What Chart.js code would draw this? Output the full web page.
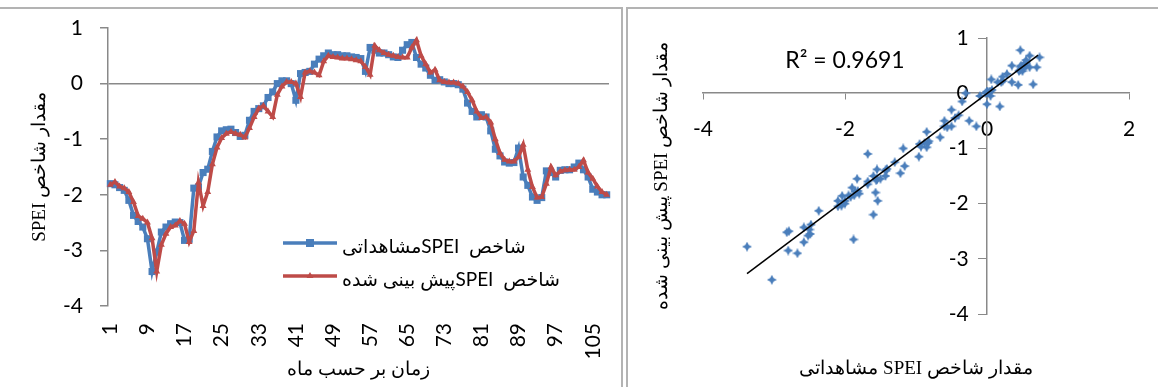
<!DOCTYPE html>
<html>
<head>
<meta charset="utf-8">
<script src="https://cdn.jsdelivr.net/npm/chart.js@4.4.1/dist/chart.umd.min.js"></script>
<style>
  html, body { margin: 0; padding: 0; background: #fff; width: 1158px; height: 387px; overflow: hidden; }
  .frame { position: absolute; top: 7px; height: 380px; border-top: 2px solid #b3b3b3; box-sizing: border-box; }
  #leftFrame { left: 0; width: 623px; border-right: 2px solid #b3b3b3; }
  #rightFrame { left: 626px; width: 532px; border-left: 2px solid #b3b3b3; }
  canvas { position: absolute; }
  #lineChart { left: 0; top: 9px; }
  #scatterChart { left: 628px; top: 9px; }
</style>
</head>
<body>
<div class="frame" id="leftFrame"></div>
<div class="frame" id="rightFrame"></div>
<canvas id="lineChart" width="620" height="378"></canvas>
<canvas id="scatterChart" width="530" height="378"></canvas>
<script>
// months 1..108
const months = Array.from({ length: 108 }, (_, i) => i + 1);

// observed SPEI
const observed = [
  -1.8, -1.82, -1.87, -1.92, -2.1, -2.37, -2.48, -2.58, -2.79, -3.38,
  -3.03, -2.67, -2.58, -2.52, -2.49, -2.5, -2.82, -2.8, -1.88, -1.86,
  -1.6, -1.54, -1.22, -0.96, -0.85, -0.83, -0.82, -0.88, -0.95, -0.93,
  -0.66, -0.5, -0.45, -0.4, -0.25, -0.15, 0.0, 0.05, 0.05, 0.0,
  -0.3, 0.18, 0.2, 0.22, 0.35, 0.44, 0.5, 0.55, 0.52, 0.52,
  0.5, 0.5, 0.48, 0.47, 0.45, 0.22, 0.65, 0.6, 0.55, 0.55,
  0.52, 0.48, 0.47, 0.6, 0.7, 0.74, 0.47, 0.35, 0.28, 0.15,
  0.06, 0.07, 0.03, 0.0, 0.0, -0.02, -0.1, -0.35, -0.5, -0.6,
  -0.56, -0.6, -0.85, -1.18, -1.3, -1.41, -1.43, -1.42, -1.16, -1.68,
  -1.83, -2.04, -2.1, -2.05, -1.57, -1.6, -1.68, -1.56, -1.55, -1.55,
  -1.5, -1.43, -1.55, -1.68, -1.9, -1.95, -2.0, -2.0
];

// predicted SPEI
const predicted = [
  -1.82, -1.77, -1.85, -1.88, -1.95, -2.13, -2.38, -2.43, -2.5, -2.78,
  -3.38, -2.9, -2.7, -2.58, -2.55, -2.47, -2.52, -2.85, -2.65, -1.78,
  -2.2, -1.95, -1.45, -1.15, -0.98, -0.9, -0.87, -0.9, -0.92, -0.97,
  -0.8, -0.6, -0.45, -0.4, -0.5, -0.6, -0.2, -0.05, 0.03, 0.03,
  0.0, -0.24, 0.2, 0.22, 0.2, 0.15, 0.4, 0.5, 0.48, 0.47,
  0.45, 0.45, 0.44, 0.42, 0.4, 0.3, 0.16, 0.68, 0.6, 0.55,
  0.52, 0.5, 0.48, 0.47, 0.47, 0.65, 0.78, 0.5, 0.35, 0.2,
  0.25, 0.06, 0.03, 0.02, 0.02, 0.0, -0.05, -0.15, -0.3, -0.5,
  -0.62, -0.6, -0.7, -1.0, -1.25, -1.37, -1.4, -1.4, -1.32, -1.1,
  -1.55, -1.86, -2.05, -2.04, -1.8, -1.5, -1.65, -1.58, -1.56, -1.55,
  -1.55, -1.5, -1.38, -1.6, -1.71, -1.85, -1.95, -2.0
];

// trendline ends
const trendX = [-3.38, 0.72];
const trendY = [-3.27, 0.69];
const rSquared = '0.9691';
const monthTickStep = 8;

const blue = '#4a7ebb';
const red = '#be4b48';
const axisGrey = '#898989';
const tickFont = { family: 'Lato', size: 21 };
const titleFont = { family: "'Liberation Serif', serif", size: 19, weight: 'normal' };
const legendFont = '19px Lato, "DejaVu Sans"';
const rtl = s => '\u202B' + s + '\u202C';

// keep the layout from adding room for label overhang
const noOverhang = s => { s.paddingTop = 0; s.paddingBottom = 0; s.paddingLeft = 0; s.paddingRight = 0; };

// legend sitting inside the plot, lower middle
const insideLegend = {
  id: 'insideLegend',
  afterDraw(chart) {
    const { ctx, chartArea } = chart;
    const x0 = chartArea.left + 175;
    const len = 54;
    ctx.save();
    chart.data.datasets.forEach((ds, i) => {
      const y = chartArea.top + 215 + i * 33;
      ctx.strokeStyle = ds.borderColor;
      ctx.lineWidth = ds.borderWidth;
      ctx.beginPath();
      ctx.moveTo(x0, y);
      ctx.lineTo(x0 + len, y);
      ctx.stroke();
      ctx.fillStyle = ds.borderColor;
      const mx = x0 + len / 2;
      if (ds.pointStyle === 'rect') {
        ctx.fillRect(mx - 4, y - 4, 8, 8);
      } else {
        ctx.beginPath();
        ctx.moveTo(mx, y - 4);
        ctx.lineTo(mx + 3.5, y + 2);
        ctx.lineTo(mx - 3.5, y + 2);
        ctx.closePath();
        ctx.fill();
      }
      ctx.fillStyle = '#000';
      ctx.font = legendFont;
      ctx.textAlign = 'left';
      ctx.textBaseline = 'middle';
      ctx.fillText(ds.label, x0 + len + 5, y + 4);
    });
    ctx.restore();
  }
};

new Chart(document.getElementById('lineChart'), {
  type: 'line',
  data: {
    labels: months,
    datasets: [
      {
        label: rtl('شاخص  SPEIمشاهداتی'),
        data: observed,
        borderColor: blue,
        backgroundColor: blue,
        borderWidth: 3.5,
        pointStyle: 'rect',
        pointRadius: 5,
        pointBorderWidth: 0,
        tension: 0,
        order: 2
      },
      {
        label: rtl('شاخص  SPEIپیش بینی شده'),
        data: predicted,
        borderColor: red,
        backgroundColor: red,
        borderWidth: 3.5,
        pointStyle: 'triangle',
        pointRadius: 4,
        pointBorderWidth: 0,
        tension: 0,
        order: 1
      }
    ]
  },
  options: {
    responsive: false,
    animation: false,
    layout: { padding: { top: 19, right: 11, bottom: 0, left: 0 } },
    plugins: { legend: { display: false }, tooltip: { enabled: false } },
    scales: {
      x: {
        offset: true,
        grid: { display: false, drawTicks: false },
        border: { display: false },
        ticks: {
          autoSkip: false, minRotation: 90, maxRotation: 90, padding: 17,
          font: tickFont, color: '#000',
          callback: (v, i) => (i % monthTickStep === 0 ? months[i] : '')
        },
        title: {
          display: true, text: 'زمان بر حسب ماه', font: titleFont, color: '#000',
          padding: { top: 0, bottom: 5.6 }
        },
        afterFit: s => { s.height = 81; noOverhang(s); }
      },
      y: {
        min: -4, max: 1,
        ticks: { stepSize: 1, font: tickFont, color: '#000', padding: 17 },
        grid: {
          color: c => (c.tick && c.tick.value === 0 ? axisGrey : 'rgba(0,0,0,0)'),
          lineWidth: 1.5, tickColor: axisGrey, tickLength: 8
        },
        border: { color: axisGrey, width: 1.5 },
        title: {
          display: true, text: rtl('مقدار شاخص SPEI'), font: titleFont, color: '#000',
          padding: { top: 28.6, bottom: 0 }
        },
        afterFit: s => { s.width = 108; noOverhang(s); }
      }
    }
  },
  plugins: [insideLegend]
});

// Excel-like four point star marker
function makeStar(size, color) {
  const c = document.createElement('canvas');
  c.width = c.height = size;
  const g = c.getContext('2d');
  const m = size / 2, k = size * 0.17;
  g.fillStyle = color;
  g.beginPath();
  g.moveTo(m, 0); g.lineTo(m + k, m - k); g.lineTo(size, m); g.lineTo(m + k, m + k);
  g.lineTo(m, size); g.lineTo(m - k, m + k); g.lineTo(0, m); g.lineTo(m - k, m - k);
  g.closePath();
  g.fill();
  return c;
}

const rLabel = {
  id: 'rLabel',
  afterDraw(chart) {
    const { ctx, scales } = chart;
    ctx.save();
    ctx.font = '23px Lato';
    ctx.fillStyle = '#000';
    ctx.textAlign = 'center';
    ctx.textBaseline = 'middle';
    ctx.fillText('R² = ' + rSquared, scales.x.getPixelForValue(-2), scales.y.getPixelForValue(0.6));
    ctx.restore();
  }
};

new Chart(document.getElementById('scatterChart'), {
  type: 'scatter',
  data: {
    datasets: [
      {
        data: observed.map((o, i) => ({ x: o, y: predicted[i] })),
        pointStyle: makeStar(10, blue),
        pointRadius: 5,
        backgroundColor: blue,
        order: 1
      },
      {
        type: 'line',
        data: trendX.map((x, i) => ({ x, y: trendY[i] })),
        borderColor: '#000',
        borderWidth: 1.5,
        pointRadius: 0,
        order: 0
      }
    ]
  },
  options: {
    responsive: false,
    animation: false,
    layout: { padding: { top: 29, right: 29, bottom: 0, left: 0 } },
    plugins: {
      legend: { display: false },
      tooltip: { enabled: false },
      title: {
        display: true, position: 'bottom', fullSize: false,
        text: rtl('مقدار شاخص SPEI مشاهداتی'), font: titleFont, color: '#000',
        padding: { top: 43.6, bottom: 6.6 }
      },
      subtitle: {
        display: true, position: 'left', fullSize: false,
        text: rtl('مقدار شاخص SPEI پیش بینی شده'), font: titleFont, color: '#000',
        padding: { top: 22.6, bottom: 29.6 }
      }
    },
    scales: {
      x: {
        type: 'linear', min: -4, max: 2, position: { y: 0 },
        ticks: { stepSize: 2, font: tickFont, color: '#000', padding: 17 },
        grid: { drawOnChartArea: false, color: axisGrey, tickLength: 6 },
        border: { color: axisGrey, width: 1.5 },
        afterFit: noOverhang
      },
      y: {
        type: 'linear', min: -4, max: 1, position: { x: 0 },
        ticks: {
          stepSize: 1, font: tickFont, color: '#000', padding: 17,
          // axis crosses mid-plot, so the gap to the axis is carried by the label itself
          callback: v => v + '\u2003\u2009'
        },
        grid: { drawOnChartArea: false, color: axisGrey, tickLength: 8 },
        border: { color: axisGrey, width: 1.5 },
        afterFit: noOverhang
      }
    }
  },
  plugins: [rLabel]
});
</script>
</body>
</html>
